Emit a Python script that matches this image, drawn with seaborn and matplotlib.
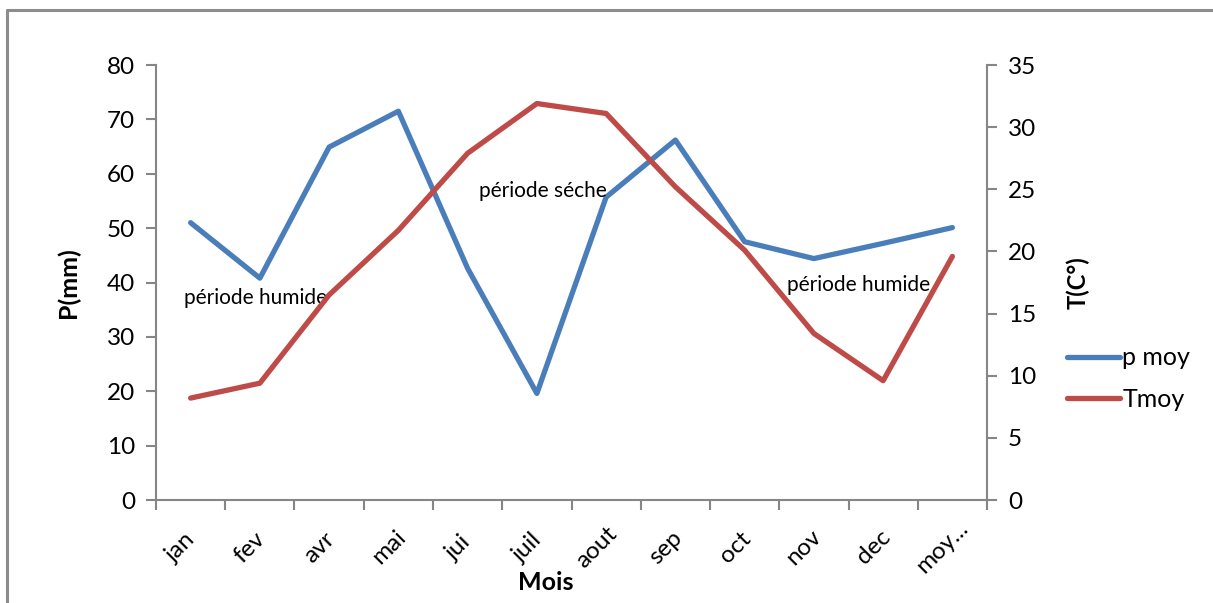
import matplotlib
matplotlib.use("Agg")
import matplotlib.pyplot as plt
from matplotlib.lines import Line2D
from matplotlib.ticker import FixedLocator, NullFormatter, FixedFormatter
import seaborn as sns
import pandas as pd
import numpy as np

months = ["jan", "fev", "avr", "mai", "jui", "juil", "aout", "sep", "oct", "nov", "dec", "moy..."]
p_moy = [51.0, 40.8, 64.9, 71.5, 42.6, 19.6, 55.7, 66.2, 47.5, 44.4, 47.2, 50.1]
t_moy = [8.2, 9.4, 16.5, 21.7, 27.9, 31.9, 31.1, 25.2, 20.1, 13.4, 9.6, 19.6]

BLUE = "#4A7EBB"
RED = "#BE4B48"
GREY = "#868686"

sns.set_theme(style="white")
plt.rcParams["font.family"] = ["Lato", "DejaVu Sans"]
plt.rcParams["text.color"] = "black"
plt.rcParams["axes.labelcolor"] = "black"
plt.rcParams["xtick.color"] = "black"
plt.rcParams["ytick.color"] = "black"

df = pd.DataFrame({"pos": np.arange(len(months)), "mois": months,
                   "p moy": p_moy, "Tmoy": t_moy})

fig = plt.figure(figsize=(12.13, 6.03), dpi=100)
ax = fig.add_axes([0.1286, 0.1708, 0.6851, 0.7214])
ax2 = ax.twinx()

sns.lineplot(data=df, x="pos", y="p moy", ax=ax, color=BLUE, lw=3.8,
             sort=False, legend=False, solid_capstyle="round")
sns.lineplot(data=df, x="pos", y="Tmoy", ax=ax2, color=RED, lw=3.8,
             sort=False, legend=False, solid_capstyle="round")

ax.set_xlim(-0.5, len(months) - 0.5)
ax.set_ylim(0, 80)
ax2.set_ylim(0, 35)
ax.set_yticks(np.arange(0, 81, 10))
ax2.set_yticks(np.arange(0, 36, 5))

# category boundaries carry the tick marks, centres carry the names
ax.xaxis.set_major_locator(FixedLocator(np.arange(-0.5, len(months), 1.0)))
ax.xaxis.set_major_formatter(NullFormatter())
ax.xaxis.set_minor_locator(FixedLocator(np.arange(len(months)) - 0.14))
ax.xaxis.set_minor_formatter(FixedFormatter(months))
ax.tick_params(axis="x", which="minor", length=0, pad=34, labelsize=17.5,
               labelrotation=45)
for lab in ax.get_xticklabels(minor=True):
    lab.set_ha("center")
    lab.set_va("center")
    lab.set_rotation_mode("anchor")

ax.tick_params(axis="x", which="major", direction="out", length=7, width=1.5,
               color=GREY, bottom=True)
ax.tick_params(axis="y", direction="out", length=7, width=1.5, color=GREY,
               labelsize=17.5, left=True, pad=8)
ax2.tick_params(axis="y", direction="out", length=7, width=1.5, color=GREY,
                labelsize=17.5, right=True, pad=8)

for a in (ax, ax2):
    for s in a.spines.values():
        s.set_color(GREY)
        s.set_linewidth(1.5)
    a.spines["top"].set_visible(False)
ax.spines["right"].set_visible(False)
ax2.spines["left"].set_visible(False)
ax2.spines["bottom"].set_visible(False)

ax.set_xlabel("Mois", fontsize=18, fontweight="bold")
ax.xaxis.set_label_coords(0.469, -0.163)
ax.set_ylabel("P(mm)", fontsize=18, fontweight="bold")
ax.yaxis.set_label_coords(-0.091, 0.5)
ax2.set_ylabel("T(C°)", fontsize=17, fontweight="bold")
ax2.yaxis.set_label_coords(1.095, 0.5)

ax.text(0.944, 37.1, "période humide", fontsize=15, ha="center", va="center")
ax.text(5.09, 56.8, "période séche", fontsize=15, ha="center", va="center")
ax.text(9.65, 39.5, "période humide", fontsize=15, ha="center", va="center")

handles = [Line2D([], [], color=BLUE, lw=3.8, solid_capstyle="round"),
           Line2D([], [], color=RED, lw=3.8, solid_capstyle="round")]
fig.legend(handles, ["p moy", "Tmoy"], loc="center left",
           bbox_to_anchor=(0.8615, 0.372), frameon=False, fontsize=18,
           handlelength=2.1, handletextpad=0.1, labelspacing=0.75)

# outer frame (left and top edges)
fig.add_artist(Line2D([0.0058, 0.0058], [0.0, 0.983], transform=fig.transFigure,
                      color="#8C8C8C", lw=2.2))
fig.add_artist(Line2D([0.0058, 1.0], [0.983, 0.983], transform=fig.transFigure,
                      color="#8C8C8C", lw=2.2))

fig.savefig("out.png", dpi=100, facecolor="white")
